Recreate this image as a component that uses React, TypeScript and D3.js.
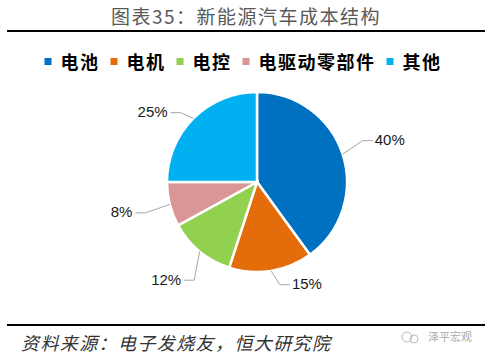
import React from "react";
import * as d3 from "d3";

const categories = ["电池", "电机", "电控", "电驱动零部件", "其他"];
const values = [40, 15, 12, 8, 25];
const labels = ["40%", "15%", "12%", "8%", "25%"];
const colors = ["#0070C0", "#E46C0A", "#92D050", "#D99694", "#00B0F0"];

const title = "图表35：新能源汽车成本结构";
const source = "资料来源：电子发烧友，恒大研究院";
const watermark = "泽平宏观";

// layout tweaks for leader elbows (style only)
const elbowNudge: [number, number][] = [
  [3, -8],
  [6, -4],
  [6, 15],
  [-7, 4],
  [0, 7],
];

const W = 490;
const H = 356;
const cx = 257;
const cy = 182;
const R = 90;

export default function App() {
  const pie = d3
    .pie<number>()
    .sort(null)
    .value((d) => d)
    .startAngle(0)
    .endAngle(2 * Math.PI);
  const arcs = pie(values);
  const arc = d3.arc<d3.PieArcDatum<number>>().innerRadius(0).outerRadius(R);

  // legend layout
  const legendFont = 18;
  const sq = 7;
  const gapSqText = 9;
  const gapItem = 11;
  const charW = 19.5;
  const itemWidths = categories.map((c) => sq + gapSqText + c.length * charW);
  const totalW = itemWidths.reduce((a, b) => a + b, 0) + gapItem * (categories.length - 1);
  let lx = W / 2 - totalW / 2 - 2;
  const legendItems = categories.map((c, i) => {
    const x = lx;
    lx += itemWidths[i] + gapItem;
    return { c, x, i };
  });

  return (
    <svg
      width={W}
      height={H}
      style={{ position: "absolute", left: 0, top: 0, background: "#fff" }}
    >
      <rect x={0} y={0} width={W} height={H} fill="#fff" />
      <text
        x={246}
        y={24}
        textAnchor="middle"
        fontFamily="'Noto Sans CJK SC', sans-serif"
        fontSize={19}
        fill="#595959"
        letterSpacing={1.5}
      >
        {title}
      </text>
      <line x1={7} x2={485} y1={31} y2={31} stroke="#000" strokeWidth={2} />

      {legendItems.map(({ c, x, i }) => (
        <g key={c}>
          <rect x={x} y={58} width={sq} height={sq} fill={colors[i]} />
          <text
            x={x + sq + gapSqText}
            y={69}
            fontFamily="'Noto Sans CJK SC', sans-serif"
            fontWeight={700}
            fontSize={legendFont}
            letterSpacing={1.5}
            fill="#000"
          >
            {c}
          </text>
        </g>
      ))}

      <g transform={`translate(${cx},${cy})`}>
        {arcs.map((a, i) => (
          <path
            key={i}
            d={arc(a) || ""}
            fill={colors[i]}
            stroke="#fff"
            strokeWidth={2.5}
            strokeLinejoin="miter"
          />
        ))}
        {arcs.map((a, i) => {
          const mid = (a.startAngle + a.endAngle) / 2;
          const sx = Math.sin(mid);
          const sy = -Math.cos(mid);
          const ex = sx * R;
          const ey = sy * R;
          const bx = sx * R * 1.2 + elbowNudge[i][0];
          const by = sy * R * 1.2 + elbowNudge[i][1];
          const right = sx > 0;
          const hx = bx + (right ? 10 : -10);
          return (
            <g key={"l" + i}>
              <polyline
                points={`${ex},${ey} ${bx},${by} ${hx},${by}`}
                fill="none"
                stroke="#A6A6A6"
                strokeWidth={1}
              />
              <text
                x={hx + (right ? 2 : -3)}
                y={by - 1}
                textAnchor={right ? "start" : "end"}
                fontFamily="'Liberation Sans', Arial, sans-serif"
                fontSize={15}
                fill="#1a1a1a"
                dominantBaseline="central"
              >
                {labels[i]}
              </text>
            </g>
          );
        })}
      </g>

      <line x1={7} x2={485} y1={325} y2={325} stroke="#000" strokeWidth={2} />
      <text
        x={21}
        y={350}
        fontFamily="'Noto Sans CJK SC', sans-serif"
        fontSize={18}
        fontStyle="italic"
        fill="#333"
        letterSpacing={1.4}
        transform="skewX(0)"
      >
        {source}
      </text>
      <g>
        <circle cx={407} cy={337} r={5} fill="none" stroke="#bbb" strokeWidth={1} />
        <circle cx={414} cy={339} r={4} fill="none" stroke="#bbb" strokeWidth={1} />
        <text
          x={428}
          y={341}
          fontFamily="'Noto Sans CJK SC', sans-serif"
          fontSize={11}
          fill="#aaa"
        >
          {watermark}
        </text>
      </g>
    </svg>
  );
}
